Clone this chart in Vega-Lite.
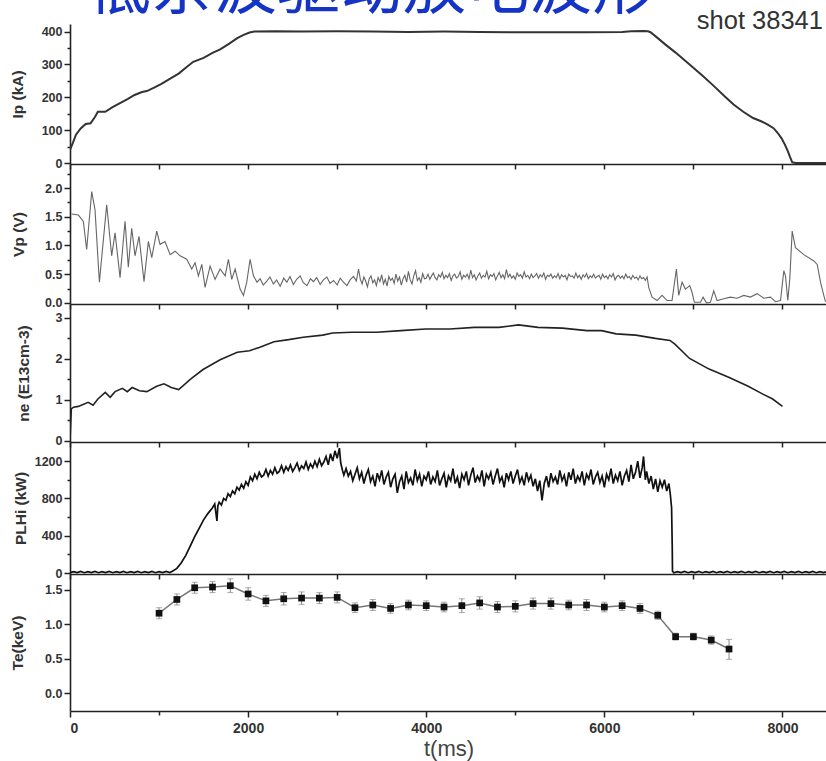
{
  "$schema": "https://vega.github.io/schema/vega-lite/v6.json",
  "autosize": {"type": "pad"},
  "padding": {"left": 9, "top": -42, "right": 0, "bottom": 4},
  "background": "white",
  "spacing": 0,
  "bounds": "flush",
  "title": {"text": "低杂波驱动放电波形", "font": "Noto Sans CJK SC", "fontSize": 63, "fontWeight": "normal", "color": "#1533c4", "anchor": "start", "frame": "group", "dx": 18, "offset": -12},
  "config": {
    "view": {"stroke": null},
    "font": "Liberation Sans",
    "axis": {"grid": false, "domainColor": "#222", "domainWidth": 1.6, "tickColor": "#222", "tickWidth": 1.5, "labelFont": "Liberation Sans", "labelFontWeight": "bold", "labelFontSize": 12.5, "labelColor": "#333", "labelPadding": 2, "labelOverlap": false, "labelBound": false, "titleFont": "Liberation Sans", "titleFontWeight": "bold", "titleFontSize": 15.5, "titleColor": "#333"}
  },
  "datasets": {
    "ip": [{"t":0,"v":40},{"t":30,"v":60},{"t":67,"v":86},{"t":120,"v":105},{"t":176,"v":119},{"t":231,"v":121},{"t":280,"v":140},{"t":313,"v":156},{"t":396,"v":156},{"t":478,"v":170},{"t":588,"v":186},{"t":650,"v":195},{"t":725,"v":207},{"t":808,"v":216},{"t":863,"v":219},{"t":950,"v":230},{"t":1027,"v":241},{"t":1120,"v":256},{"t":1220,"v":272},{"t":1300,"v":290},{"t":1384,"v":308},{"t":1500,"v":320},{"t":1600,"v":335},{"t":1686,"v":346},{"t":1780,"v":362},{"t":1878,"v":380},{"t":1950,"v":390},{"t":2016,"v":397},{"t":2071,"v":400},{"t":2300,"v":401},{"t":2600,"v":400},{"t":3000,"v":401},{"t":3400,"v":400},{"t":3800,"v":399},{"t":4200,"v":400},{"t":4600,"v":399},{"t":5000,"v":398},{"t":5400,"v":398},{"t":5800,"v":398},{"t":6200,"v":399},{"t":6300,"v":401},{"t":6436,"v":402},{"t":6490,"v":401},{"t":6518,"v":398},{"t":6600,"v":380},{"t":6683,"v":361},{"t":6800,"v":336},{"t":6957,"v":300},{"t":7100,"v":266},{"t":7231,"v":234},{"t":7350,"v":203},{"t":7451,"v":178},{"t":7560,"v":156},{"t":7670,"v":137},{"t":7760,"v":127},{"t":7835,"v":117},{"t":7900,"v":106},{"t":7945,"v":92},{"t":7990,"v":75},{"t":8027,"v":56},{"t":8060,"v":36},{"t":8082,"v":20},{"t":8110,"v":2},{"t":8150,"v":0},{"t":8500,"v":0}],
    "vp": [{"t":19,"v":1.55},{"t":94,"v":1.53},{"t":150,"v":1.42},{"t":187,"v":0.93},{"t":244,"v":1.94},{"t":281,"v":1.62},{"t":330,"v":0.36},{"t":412,"v":1.71},{"t":468,"v":0.82},{"t":506,"v":1.22},{"t":562,"v":0.44},{"t":618,"v":1.42},{"t":655,"v":0.62},{"t":693,"v":1.3},{"t":730,"v":0.82},{"t":775,"v":1.16},{"t":831,"v":0.37},{"t":880,"v":1.07},{"t":918,"v":0.79},{"t":974,"v":1.25},{"t":1011,"v":1.02},{"t":1067,"v":1.07},{"t":1124,"v":0.84},{"t":1180,"v":0.9},{"t":1236,"v":0.82},{"t":1311,"v":0.76},{"t":1367,"v":0.59},{"t":1404,"v":0.7},{"t":1442,"v":0.47},{"t":1480,"v":0.67},{"t":1517,"v":0.27},{"t":1573,"v":0.64},{"t":1629,"v":0.41},{"t":1685,"v":0.59},{"t":1742,"v":0.47},{"t":1779,"v":0.76},{"t":1816,"v":0.41},{"t":1854,"v":0.59},{"t":1910,"v":0.24},{"t":1948,"v":0.13},{"t":1985,"v":0.36},{"t":2022,"v":0.76},{"t":2060,"v":0.47},{"t":2100,"v":0.36},{"t":2135,"v":0.42},{"t":2170,"v":0.31},{"t":2210,"v":0.38},{"t":2245,"v":0.45},{"t":2284,"v":0.33},{"t":2320,"v":0.4},{"t":2360,"v":0.29},{"t":2400,"v":0.43},{"t":2435,"v":0.36},{"t":2470,"v":0.46},{"t":2509,"v":0.32},{"t":2545,"v":0.41},{"t":2584,"v":0.47},{"t":2620,"v":0.35},{"t":2660,"v":0.3},{"t":2700,"v":0.42},{"t":2734,"v":0.37},{"t":2770,"v":0.44},{"t":2809,"v":0.32},{"t":2845,"v":0.4},{"t":2884,"v":0.45},{"t":2920,"v":0.34},{"t":2959,"v":0.39},{"t":3000,"v":0.31},{"t":3034,"v":0.43},{"t":3070,"v":0.36},{"t":3109,"v":0.3},{"t":3145,"v":0.4},{"t":3183,"v":0.46},{"t":3215,"v":0.38},{"t":3240,"v":0.59},{"t":3260,"v":0.41},{"t":3280,"v":0.33},{"t":3300,"v":0.45},{"t":3320,"v":0.38},{"t":3340,"v":0.28},{"t":3360,"v":0.42},{"t":3380,"v":0.47},{"t":3400,"v":0.35},{"t":3420,"v":0.4},{"t":3440,"v":0.3},{"t":3460,"v":0.44},{"t":3480,"v":0.37},{"t":3500,"v":0.49},{"t":3520,"v":0.33},{"t":3540,"v":0.41},{"t":3560,"v":0.29},{"t":3580,"v":0.46},{"t":3600,"v":0.39},{"t":3620,"v":0.43},{"t":3640,"v":0.34},{"t":3660,"v":0.5},{"t":3680,"v":0.38},{"t":3700,"v":0.45},{"t":3720,"v":0.31},{"t":3740,"v":0.42},{"t":3760,"v":0.48},{"t":3780,"v":0.36},{"t":3800,"v":0.55},{"t":3820,"v":0.4},{"t":3840,"v":0.33},{"t":3860,"v":0.47},{"t":3880,"v":0.56},{"t":3900,"v":0.39},{"t":3920,"v":0.44},{"t":3940,"v":0.36},{"t":3960,"v":0.51},{"t":3980,"v":0.42},{"t":4000,"v":0.43},{"t":4020,"v":0.5},{"t":4040,"v":0.41},{"t":4060,"v":0.47},{"t":4080,"v":0.52},{"t":4100,"v":0.44},{"t":4120,"v":0.4},{"t":4140,"v":0.49},{"t":4160,"v":0.45},{"t":4180,"v":0.53},{"t":4200,"v":0.42},{"t":4220,"v":0.48},{"t":4240,"v":0.44},{"t":4260,"v":0.51},{"t":4280,"v":0.39},{"t":4300,"v":0.47},{"t":4320,"v":0.5},{"t":4340,"v":0.43},{"t":4360,"v":0.46},{"t":4380,"v":0.54},{"t":4400,"v":0.41},{"t":4420,"v":0.48},{"t":4440,"v":0.45},{"t":4460,"v":0.5},{"t":4480,"v":0.42},{"t":4500,"v":0.57},{"t":4520,"v":0.44},{"t":4540,"v":0.49},{"t":4560,"v":0.4},{"t":4580,"v":0.47},{"t":4600,"v":0.52},{"t":4620,"v":0.43},{"t":4640,"v":0.48},{"t":4660,"v":0.45},{"t":4680,"v":0.55},{"t":4700,"v":0.42},{"t":4720,"v":0.49},{"t":4740,"v":0.46},{"t":4760,"v":0.51},{"t":4780,"v":0.4},{"t":4800,"v":0.47},{"t":4820,"v":0.53},{"t":4840,"v":0.44},{"t":4860,"v":0.49},{"t":4880,"v":0.42},{"t":4900,"v":0.58},{"t":4920,"v":0.45},{"t":4940,"v":0.5},{"t":4960,"v":0.43},{"t":4980,"v":0.47},{"t":5000,"v":0.41},{"t":5020,"v":0.52},{"t":5040,"v":0.46},{"t":5060,"v":0.49},{"t":5080,"v":0.43},{"t":5100,"v":0.54},{"t":5120,"v":0.45},{"t":5140,"v":0.48},{"t":5160,"v":0.42},{"t":5180,"v":0.5},{"t":5200,"v":0.44},{"t":5220,"v":0.47},{"t":5240,"v":0.51},{"t":5260,"v":0.43},{"t":5280,"v":0.49},{"t":5300,"v":0.45},{"t":5320,"v":0.52},{"t":5340,"v":0.41},{"t":5360,"v":0.48},{"t":5380,"v":0.46},{"t":5400,"v":0.5},{"t":5420,"v":0.43},{"t":5440,"v":0.47},{"t":5460,"v":0.44},{"t":5480,"v":0.51},{"t":5500,"v":0.42},{"t":5520,"v":0.49},{"t":5540,"v":0.45},{"t":5560,"v":0.48},{"t":5580,"v":0.4},{"t":5600,"v":0.5},{"t":5620,"v":0.46},{"t":5640,"v":0.47},{"t":5660,"v":0.43},{"t":5680,"v":0.52},{"t":5700,"v":0.44},{"t":5720,"v":0.48},{"t":5740,"v":0.41},{"t":5760,"v":0.49},{"t":5780,"v":0.45},{"t":5800,"v":0.51},{"t":5820,"v":0.42},{"t":5840,"v":0.47},{"t":5860,"v":0.44},{"t":5880,"v":0.5},{"t":5900,"v":0.43},{"t":5920,"v":0.46},{"t":5940,"v":0.48},{"t":5960,"v":0.41},{"t":5980,"v":0.5},{"t":6000,"v":0.44},{"t":6020,"v":0.47},{"t":6040,"v":0.42},{"t":6060,"v":0.49},{"t":6080,"v":0.45},{"t":6100,"v":0.51},{"t":6120,"v":0.4},{"t":6140,"v":0.46},{"t":6160,"v":0.48},{"t":6180,"v":0.43},{"t":6200,"v":0.47},{"t":6220,"v":0.42},{"t":6240,"v":0.5},{"t":6260,"v":0.44},{"t":6280,"v":0.46},{"t":6300,"v":0.41},{"t":6320,"v":0.48},{"t":6340,"v":0.43},{"t":6360,"v":0.45},{"t":6380,"v":0.4},{"t":6400,"v":0.47},{"t":6420,"v":0.42},{"t":6440,"v":0.44},{"t":6460,"v":0.39},{"t":6480,"v":0.45},{"t":6498,"v":0.27},{"t":6536,"v":0.1},{"t":6592,"v":0.04},{"t":6648,"v":0.13},{"t":6704,"v":0.04},{"t":6760,"v":0.04},{"t":6809,"v":0.59},{"t":6835,"v":0.13},{"t":6873,"v":0.36},{"t":6910,"v":0.24},{"t":6959,"v":0.3},{"t":6985,"v":0.18},{"t":7011,"v":0.01},{"t":7079,"v":0.01},{"t":7109,"v":0.1},{"t":7146,"v":0.0},{"t":7191,"v":0.01},{"t":7228,"v":0.21},{"t":7266,"v":0.04},{"t":7341,"v":0.07},{"t":7416,"v":0.1},{"t":7491,"v":0.08},{"t":7566,"v":0.13},{"t":7640,"v":0.1},{"t":7716,"v":0.16},{"t":7790,"v":0.08},{"t":7865,"v":0.1},{"t":7921,"v":0.02},{"t":7978,"v":0.04},{"t":8015,"v":0.56},{"t":8034,"v":0.47},{"t":8060,"v":0.04},{"t":8082,"v":0.41},{"t":8109,"v":1.25},{"t":8146,"v":0.96},{"t":8240,"v":0.84},{"t":8352,"v":0.73},{"t":8390,"v":0.67},{"t":8427,"v":0.36},{"t":8464,"v":0.13},{"t":8483,"v":0.02}],
    "ne": [{"t":0,"v":0},{"t":15,"v":0.78},{"t":40,"v":0.82},{"t":94,"v":0.84},{"t":204,"v":0.94},{"t":259,"v":0.87},{"t":313,"v":1.02},{"t":396,"v":1.18},{"t":451,"v":1.06},{"t":506,"v":1.2},{"t":588,"v":1.28},{"t":643,"v":1.2},{"t":698,"v":1.3},{"t":780,"v":1.22},{"t":863,"v":1.2},{"t":973,"v":1.33},{"t":1055,"v":1.39},{"t":1137,"v":1.3},{"t":1220,"v":1.25},{"t":1357,"v":1.51},{"t":1494,"v":1.74},{"t":1686,"v":1.98},{"t":1878,"v":2.16},{"t":2016,"v":2.2},{"t":2125,"v":2.28},{"t":2290,"v":2.42},{"t":2455,"v":2.47},{"t":2619,"v":2.53},{"t":2839,"v":2.58},{"t":2949,"v":2.63},{"t":3168,"v":2.65},{"t":3443,"v":2.65},{"t":3717,"v":2.69},{"t":3992,"v":2.73},{"t":4267,"v":2.73},{"t":4541,"v":2.77},{"t":4816,"v":2.77},{"t":5036,"v":2.83},{"t":5255,"v":2.77},{"t":5529,"v":2.75},{"t":5804,"v":2.69},{"t":5969,"v":2.69},{"t":6133,"v":2.61},{"t":6353,"v":2.58},{"t":6573,"v":2.5},{"t":6737,"v":2.45},{"t":6792,"v":2.36},{"t":6957,"v":2.01},{"t":7176,"v":1.75},{"t":7396,"v":1.55},{"t":7615,"v":1.33},{"t":7780,"v":1.14},{"t":7890,"v":1.02},{"t":8000,"v":0.84}],
    "pl": [{"t":0,"v":4},{"t":40,"v":16},{"t":80,"v":5},{"t":120,"v":17},{"t":160,"v":4},{"t":200,"v":15},{"t":240,"v":6},{"t":280,"v":17},{"t":320,"v":4},{"t":360,"v":16},{"t":400,"v":5},{"t":440,"v":17},{"t":480,"v":4},{"t":520,"v":15},{"t":560,"v":6},{"t":600,"v":17},{"t":640,"v":4},{"t":680,"v":16},{"t":720,"v":5},{"t":760,"v":17},{"t":800,"v":4},{"t":840,"v":15},{"t":880,"v":6},{"t":920,"v":17},{"t":960,"v":4},{"t":1000,"v":16},{"t":1040,"v":5},{"t":1080,"v":17},{"t":1120,"v":6},{"t":1150,"v":20},{"t":1200,"v":50},{"t":1250,"v":110},{"t":1300,"v":190},{"t":1350,"v":290},{"t":1400,"v":390},{"t":1450,"v":480},{"t":1500,"v":570},{"t":1550,"v":640},{"t":1600,"v":700},{"t":1625,"v":740},{"t":1650,"v":560},{"t":1660,"v":720},{"t":1675,"v":760},{"t":1700,"v":730},{"t":1725,"v":800},{"t":1750,"v":780},{"t":1775,"v":850},{"t":1800,"v":820},{"t":1825,"v":880},{"t":1850,"v":850},{"t":1875,"v":920},{"t":1900,"v":890},{"t":1925,"v":950},{"t":1950,"v":910},{"t":1975,"v":980},{"t":2000,"v":940},{"t":2025,"v":1030},{"t":2050,"v":990},{"t":2075,"v":1060},{"t":2100,"v":1010},{"t":2125,"v":1080},{"t":2150,"v":1030},{"t":2175,"v":1050},{"t":2200,"v":1110},{"t":2225,"v":1040},{"t":2250,"v":1100},{"t":2275,"v":1060},{"t":2300,"v":1130},{"t":2325,"v":1070},{"t":2350,"v":1090},{"t":2375,"v":1150},{"t":2400,"v":1080},{"t":2425,"v":1140},{"t":2450,"v":1100},{"t":2475,"v":1160},{"t":2500,"v":1090},{"t":2525,"v":1130},{"t":2550,"v":1180},{"t":2575,"v":1100},{"t":2600,"v":1150},{"t":2625,"v":1120},{"t":2650,"v":1190},{"t":2675,"v":1110},{"t":2700,"v":1170},{"t":2725,"v":1130},{"t":2750,"v":1200},{"t":2775,"v":1140},{"t":2800,"v":1220},{"t":2825,"v":1150},{"t":2850,"v":1190},{"t":2875,"v":1250},{"t":2900,"v":1160},{"t":2925,"v":1280},{"t":2950,"v":1200},{"t":2975,"v":1310},{"t":3000,"v":1230},{"t":3025,"v":1340},{"t":3040,"v":1180},{"t":3060,"v":1100},{"t":3075,"v":1050},{"t":3100,"v":1120},{"t":3125,"v":1040},{"t":3150,"v":1090},{"t":3175,"v":990},{"t":3200,"v":1060},{"t":3225,"v":1130},{"t":3250,"v":1010},{"t":3275,"v":1080},{"t":3300,"v":960},{"t":3325,"v":1050},{"t":3350,"v":1110},{"t":3375,"v":980},{"t":3400,"v":1040},{"t":3425,"v":930},{"t":3450,"v":1070},{"t":3475,"v":1000},{"t":3500,"v":1100},{"t":3525,"v":950},{"t":3550,"v":1030},{"t":3575,"v":1080},{"t":3600,"v":920},{"t":3625,"v":1010},{"t":3650,"v":1060},{"t":3675,"v":860},{"t":3700,"v":980},{"t":3725,"v":1040},{"t":3750,"v":900},{"t":3775,"v":1090},{"t":3800,"v":970},{"t":3825,"v":1020},{"t":3850,"v":940},{"t":3875,"v":1110},{"t":3900,"v":990},{"t":3925,"v":1060},{"t":3950,"v":930},{"t":3975,"v":1040},{"t":4000,"v":1000},{"t":4025,"v":1090},{"t":4050,"v":950},{"t":4075,"v":1030},{"t":4100,"v":980},{"t":4125,"v":1100},{"t":4150,"v":940},{"t":4175,"v":1010},{"t":4200,"v":1070},{"t":4225,"v":920},{"t":4250,"v":1040},{"t":4275,"v":990},{"t":4300,"v":1120},{"t":4325,"v":960},{"t":4350,"v":1030},{"t":4375,"v":910},{"t":4400,"v":1060},{"t":4425,"v":1000},{"t":4450,"v":1090},{"t":4475,"v":940},{"t":4500,"v":1050},{"t":4525,"v":1130},{"t":4550,"v":970},{"t":4575,"v":1040},{"t":4600,"v":990},{"t":4625,"v":1100},{"t":4650,"v":930},{"t":4675,"v":1060},{"t":4700,"v":1010},{"t":4725,"v":1080},{"t":4750,"v":950},{"t":4775,"v":1040},{"t":4800,"v":1120},{"t":4825,"v":980},{"t":4850,"v":1030},{"t":4875,"v":920},{"t":4900,"v":1070},{"t":4925,"v":1000},{"t":4950,"v":1090},{"t":4975,"v":960},{"t":5000,"v":1040},{"t":5025,"v":1110},{"t":5050,"v":970},{"t":5075,"v":1030},{"t":5100,"v":940},{"t":5125,"v":1080},{"t":5150,"v":990},{"t":5175,"v":1050},{"t":5200,"v":930},{"t":5225,"v":1010},{"t":5250,"v":880},{"t":5275,"v":990},{"t":5300,"v":780},{"t":5325,"v":960},{"t":5350,"v":1040},{"t":5375,"v":920},{"t":5400,"v":1070},{"t":5425,"v":980},{"t":5450,"v":1030},{"t":5475,"v":950},{"t":5500,"v":1100},{"t":5525,"v":990},{"t":5550,"v":1050},{"t":5575,"v":930},{"t":5600,"v":1080},{"t":5625,"v":1000},{"t":5650,"v":1120},{"t":5675,"v":960},{"t":5700,"v":1040},{"t":5725,"v":990},{"t":5750,"v":1090},{"t":5775,"v":940},{"t":5800,"v":1060},{"t":5825,"v":1010},{"t":5850,"v":1110},{"t":5875,"v":950},{"t":5900,"v":1030},{"t":5925,"v":1080},{"t":5950,"v":970},{"t":5975,"v":1040},{"t":6000,"v":920},{"t":6025,"v":1060},{"t":6050,"v":1000},{"t":6075,"v":1120},{"t":6100,"v":960},{"t":6125,"v":1050},{"t":6150,"v":990},{"t":6175,"v":1090},{"t":6200,"v":940},{"t":6225,"v":1040},{"t":6250,"v":1100},{"t":6275,"v":980},{"t":6300,"v":1160},{"t":6325,"v":1010},{"t":6350,"v":1080},{"t":6375,"v":1200},{"t":6400,"v":1020},{"t":6425,"v":1130},{"t":6440,"v":1250},{"t":6460,"v":1000},{"t":6475,"v":1090},{"t":6500,"v":960},{"t":6525,"v":1040},{"t":6550,"v":900},{"t":6575,"v":1010},{"t":6600,"v":870},{"t":6625,"v":990},{"t":6650,"v":920},{"t":6675,"v":1000},{"t":6700,"v":880},{"t":6725,"v":960},{"t":6740,"v":850},{"t":6755,"v":700},{"t":6762,"v":300},{"t":6765,"v":20},{"t":6780,"v":4},{"t":6820,"v":16},{"t":6860,"v":5},{"t":6900,"v":17},{"t":6940,"v":4},{"t":6980,"v":15},{"t":7020,"v":6},{"t":7060,"v":17},{"t":7100,"v":4},{"t":7140,"v":16},{"t":7180,"v":5},{"t":7220,"v":17},{"t":7260,"v":4},{"t":7300,"v":15},{"t":7340,"v":6},{"t":7380,"v":17},{"t":7420,"v":4},{"t":7460,"v":16},{"t":7500,"v":5},{"t":7540,"v":17},{"t":7580,"v":4},{"t":7620,"v":15},{"t":7660,"v":6},{"t":7700,"v":17},{"t":7740,"v":4},{"t":7780,"v":16},{"t":7820,"v":5},{"t":7860,"v":17},{"t":7900,"v":4},{"t":7940,"v":15},{"t":7980,"v":6},{"t":8020,"v":17},{"t":8060,"v":4},{"t":8100,"v":16},{"t":8140,"v":5},{"t":8180,"v":17},{"t":8220,"v":4},{"t":8260,"v":15},{"t":8300,"v":6},{"t":8340,"v":17},{"t":8380,"v":4},{"t":8420,"v":16},{"t":8460,"v":5},{"t":8500,"v":17}],
    "te": [{"t":1000,"te":1.16,"lo":1.08,"hi":1.24},{"t":1200,"te":1.36,"lo":1.28,"hi":1.44},{"t":1400,"te":1.53,"lo":1.45,"hi":1.61},{"t":1600,"te":1.54,"lo":1.46,"hi":1.62},{"t":1800,"te":1.56,"lo":1.46,"hi":1.66},{"t":2000,"te":1.44,"lo":1.35,"hi":1.53},{"t":2200,"te":1.34,"lo":1.26,"hi":1.42},{"t":2400,"te":1.37,"lo":1.28,"hi":1.46},{"t":2600,"te":1.38,"lo":1.29,"hi":1.47},{"t":2800,"te":1.38,"lo":1.3,"hi":1.46},{"t":3000,"te":1.39,"lo":1.31,"hi":1.47},{"t":3200,"te":1.24,"lo":1.17,"hi":1.31},{"t":3400,"te":1.28,"lo":1.2,"hi":1.36},{"t":3600,"te":1.23,"lo":1.16,"hi":1.3},{"t":3800,"te":1.28,"lo":1.21,"hi":1.35},{"t":4000,"te":1.27,"lo":1.2,"hi":1.34},{"t":4200,"te":1.25,"lo":1.18,"hi":1.32},{"t":4400,"te":1.27,"lo":1.17,"hi":1.37},{"t":4600,"te":1.31,"lo":1.22,"hi":1.4},{"t":4800,"te":1.25,"lo":1.17,"hi":1.33},{"t":5000,"te":1.26,"lo":1.18,"hi":1.34},{"t":5200,"te":1.3,"lo":1.22,"hi":1.38},{"t":5400,"te":1.3,"lo":1.22,"hi":1.38},{"t":5600,"te":1.28,"lo":1.21,"hi":1.35},{"t":5800,"te":1.28,"lo":1.2,"hi":1.36},{"t":6000,"te":1.25,"lo":1.18,"hi":1.32},{"t":6200,"te":1.27,"lo":1.2,"hi":1.34},{"t":6400,"te":1.23,"lo":1.16,"hi":1.3},{"t":6600,"te":1.13,"lo":1.07,"hi":1.19},{"t":6800,"te":0.82,"lo":0.77,"hi":0.87},{"t":7000,"te":0.82,"lo":0.77,"hi":0.87},{"t":7200,"te":0.77,"lo":0.71,"hi":0.83},{"t":7400,"te":0.64,"lo":0.49,"hi":0.78}]
  },
  "vconcat": [
    {
      "width": 757, "height": 140,
      "layer": [
        {
          "data": {"name": "ip"},
          "mark": {"type": "line", "color": "#333", "strokeWidth": 2, "clip": true},
          "encoding": {
            "x": {"field": "t", "type": "quantitative", "title": null, "scale": {"domain": [0, 8500], "nice": false, "zero": false}, "axis": {"labels": false, "values": [0,1000,2000,3000,4000,5000,6000,7000,8000], "tickSize": 5}},
            "y": {"field": "v", "type": "quantitative", "title": "Ip (kA)", "scale": {"domain": [-3, 423], "nice": false, "zero": false}, "axis": {"labelOverlap": false, "titleX": -53, "titleBaseline": "middle", "values": [0,50,100,150,200,250,300,350,400], "tickSize": {"condition": {"test": "datum.value % 100 != 0", "value": 3}, "value": 6}, "labelExpr": "datum.value % 100 != 0 ? '' : format(datum.value, 'd')"}}
          }
        },
        {
          "data": {"values": [{"label": "shot 38341", "t": 8455, "v": 407}]},
          "mark": {"type": "text", "font": "Liberation Sans", "fontSize": 25.5, "color": "#333", "align": "right", "baseline": "alphabetic"},
          "encoding": {
            "text": {"field": "label"},
            "x": {"field": "t", "type": "quantitative", "title": null, "axis": {"labels": false, "values": [0,1000,2000,3000,4000,5000,6000,7000,8000], "tickSize": 5}},
            "y": {"field": "v", "type": "quantitative", "title": "Ip (kA)", "axis": {"labelOverlap": false, "titleX": -53, "titleBaseline": "middle", "values": [0,50,100,150,200,250,300,350,400], "tickSize": {"condition": {"test": "datum.value % 100 != 0", "value": 3}, "value": 6}, "labelExpr": "datum.value % 100 != 0 ? '' : format(datum.value, 'd')"}}
          }
        }
      ]
    },
    {
      "width": 757, "height": 140,
      "data": {"name": "vp"},
      "mark": {"type": "line", "color": "#666", "strokeWidth": 1.1, "clip": true},
      "encoding": {
        "x": {"field": "t", "type": "quantitative", "scale": {"domain": [0, 8500], "nice": false, "zero": false}, "axis": {"title": null, "labels": false, "values": [0,1000,2000,3000,4000,5000,6000,7000,8000], "tickSize": 5}},
        "y": {"field": "v", "type": "quantitative", "title": "Vp (V)", "scale": {"domain": [-0.02, 2.42], "nice": false, "zero": false}, "axis": {"labelOverlap": false, "titleX": -52, "titleBaseline": "middle", "values": [0,0.25,0.5,0.75,1,1.25,1.5,1.75,2,2.25], "tickSize": {"condition": {"test": "(datum.value*2) % 1 != 0", "value": 3}, "value": 6}, "labelExpr": "(datum.value*2) % 1 != 0 ? '' : format(datum.value, '.1f')"}}
      }
    },
    {
      "width": 757, "height": 138,
      "data": {"name": "ne"},
      "mark": {"type": "line", "color": "#222", "strokeWidth": 1.6, "clip": true},
      "encoding": {
        "x": {"field": "t", "type": "quantitative", "scale": {"domain": [0, 8500], "nice": false, "zero": false}, "axis": {"title": null, "labels": false, "values": [0,1000,2000,3000,4000,5000,6000,7000,8000], "tickSize": 5}},
        "y": {"field": "v", "type": "quantitative", "title": "ne (E13cm-3)", "scale": {"domain": [-0.03, 3.34], "nice": false, "zero": false}, "axis": {"labelOverlap": false, "titleX": -47, "titleBaseline": "middle", "values": [0,0.5,1,1.5,2,2.5,3], "tickSize": {"condition": {"test": "datum.value % 1 != 0", "value": 3}, "value": 6}, "labelExpr": "datum.value % 1 != 0 ? '' : format(datum.value, 'd')"}}
      }
    },
    {
      "width": 757, "height": 132,
      "data": {"name": "pl"},
      "mark": {"type": "line", "color": "#111", "strokeWidth": 1.7, "clip": true},
      "encoding": {
        "x": {"field": "t", "type": "quantitative", "scale": {"domain": [0, 8500], "nice": false, "zero": false}, "axis": {"title": null, "labels": false, "values": [0,1000,2000,3000,4000,5000,6000,7000,8000], "tickSize": 5}},
        "y": {"field": "v", "type": "quantitative", "title": "PLHi (kW)", "scale": {"domain": [-10, 1405], "nice": false, "zero": false}, "axis": {"labelOverlap": false, "titleX": -50, "titleBaseline": "middle", "values": [0,200,400,600,800,1000,1200], "tickSize": {"condition": {"test": "datum.value % 400 != 0", "value": 3}, "value": 6}, "labelExpr": "datum.value % 400 != 0 ? '' : format(datum.value, 'd')"}}
      }
    },
    {
      "width": 757, "height": 137,
      "data": {"name": "te"},
      "layer": [
        {
          "mark": {"type": "line", "color": "#777", "strokeWidth": 1.5},
          "encoding": {
            "x": {"field": "t", "type": "quantitative", "title": "t(ms)", "scale": {"domain": [0, 8500], "nice": false, "zero": false}, "axis": {"labelOverlap": false, "titleFontSize": 22, "titleFontWeight": "normal", "titleColor": "#444", "titlePadding": 3, "labelFontSize": 14, "labelPadding": 4, "values": [0,1000,2000,3000,4000,5000,6000,7000,8000], "tickSize": {"condition": {"test": "datum.value % 2000 != 0", "value": 4}, "value": 6}, "labelExpr": "datum.value % 2000 != 0 ? '' : format(datum.value, 'd')"}},
            "y": {"field": "te", "type": "quantitative", "title": "Te(keV)", "scale": {"domain": [-0.26, 1.73], "nice": false, "zero": false}, "axis": {"labelOverlap": false, "titleX": -53, "titleBaseline": "middle", "values": [0,0.25,0.5,0.75,1,1.25,1.5], "tickSize": {"condition": {"test": "(datum.value*2) % 1 != 0", "value": 3}, "value": 6}, "labelExpr": "(datum.value*2) % 1 != 0 ? '' : format(datum.value, '.1f')"}}
          }
        },
        {
          "mark": {"type": "errorbar", "ticks": {"size": 6, "color": "#888"}, "rule": {"color": "#888"}},
          "encoding": {
            "x": {"field": "t", "type": "quantitative", "title": "t(ms)"},
            "y": {"field": "lo", "type": "quantitative", "title": "Te(keV)"},
            "y2": {"field": "hi"}
          }
        },
        {
          "mark": {"type": "point", "shape": "square", "filled": true, "color": "#111", "size": 45, "opacity": 1},
          "encoding": {
            "x": {"field": "t", "type": "quantitative", "title": "t(ms)"},
            "y": {"field": "te", "type": "quantitative", "title": "Te(keV)"}
          }
        }
      ]
    }
  ]
}
